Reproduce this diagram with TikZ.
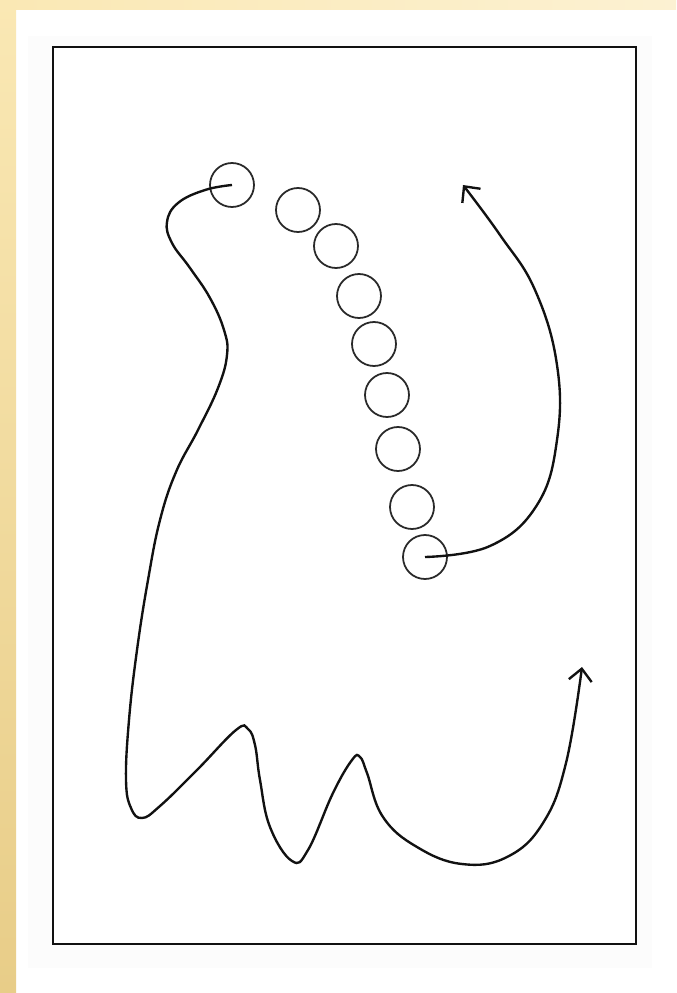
\documentclass[tikz,border=0pt]{standalone}
\usetikzlibrary{arrows.meta}
\definecolor{PlaySand}{HTML}{FAE8B4}
\definecolor{PlaySandDark}{HTML}{E8CD88}
\definecolor{PlayInk}{HTML}{111111}
\tikzset{
  playcourt/.style={draw=PlayInk,line width=1.3pt},
  playspot/.style={circle,draw=PlayInk!90,line width=1pt,minimum size=8.8mm,inner sep=0pt},
  playrun/.style={draw=PlayInk,line width=1.35pt,smooth,tension=0.7},
  playarrow/.style={playrun,-{Straight Barb[length=2.4mm,width=4.6mm]}}
}

\begin{document}
\begin{tikzpicture}[x=0.2mm,y=-0.2mm]
  \useasboundingbox (0,0) rectangle (676,993);
  % paper and sand edges
  \fill[white] (0,0) rectangle (676,993);
  \fill[left color=PlaySand,right color=PlaySand!60] (0,0) rectangle (676,10);
  \fill[top color=PlaySand,bottom color=PlaySandDark] (0,0) rectangle (16,993);
  \fill[black!1] (28,36) rectangle (652,968);
  \draw[playcourt,fill=white] (53,47) rectangle (636,944);
  % players
  \foreach \name/\px/\py in {c1/232/185,c2/298/210,c3/336/246,c4/359/296,c5/374/344,
                             c6/387/395,c7/398/449,c8/412/507,c9/425/557}
    \node[playspot] (\name) at (\px,\py) {};
  \coordinate (tipL) at (582,667);
  \coordinate (tipR) at (463,185);
  % runs
  \draw[playarrow] plot coordinates {(c1.center) (205,190) (178,203) (167,222)
    (172,243) (190,268) (210,298) (224,330) (227,355) (218,388) (198,430)
    (176,472) (160,520) (148,580) (137,650) (129,720) (126,780) (131,808)
    (142,818) (160,806) (197,770) (236,730) (248,729) (255,745) (260,780) (270,827)
    (292,861) (308,850) (333,793) (352,760) (360,757) (367,773) (383,817)
    (417,847) (462,864) (507,857) (543,823) (566,763) (tipL)};
  \draw[playarrow] plot coordinates {(c9.center) (490,546) (537,505) (557,440)
    (557,365) (535,290) (500,235) (tipR)};
\end{tikzpicture}
\end{document}
